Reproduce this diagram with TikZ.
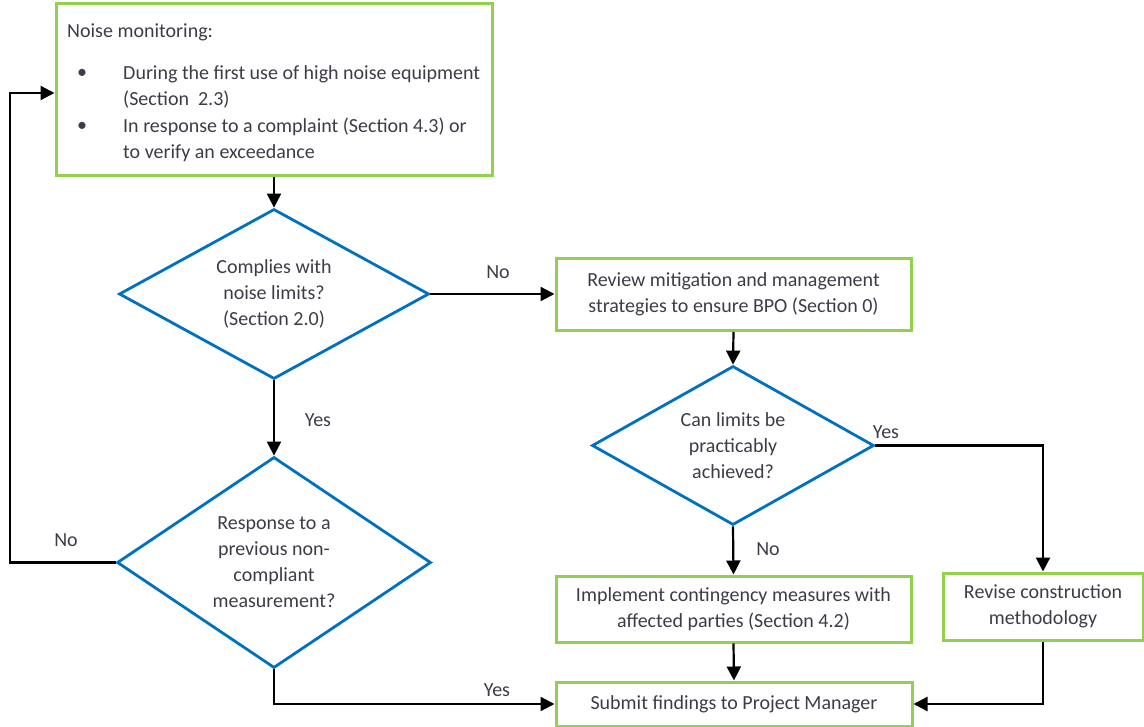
\documentclass[tikz,border=0pt]{standalone}
\usepackage{fontspec}
\setmainfont{Carlito}
\usetikzlibrary{shapes.geometric,arrows.meta}
\definecolor{gbord}{HTML}{92D050}
\definecolor{bdia}{HTML}{0070C0}
\definecolor{txtc}{HTML}{3C3C48}
\begin{document}
\begin{tikzpicture}[x=1pt,y=-1pt,
  every node/.style={text=txtc, font=\fontsize{20}{26}\selectfont},
  box/.style={draw=gbord, line width=3pt, rectangle, align=center, inner sep=0},
  dia/.style={draw=bdia, line width=2.8pt, diamond, align=center, inner sep=0},
  conn/.style={line width=2.2pt, -{Triangle[length=14pt,width=14pt]}},
  lab/.style={inner sep=0}]
\useasboundingbox (0,0) rectangle (1144,727);
% nodes
\node[box, minimum width=436, minimum height=172] (mon) at (274,90) {};
\node[lab, anchor=base west] (t0) at (67,38) {Noise monitoring:};
\node[lab] (b1) at (82,74) {•};
\node[lab, anchor=base west] (t1) at (123,80) {During the first use of high noise equipment};
\node[lab, anchor=base west] (t2) at (123,106) {(Section~~2.3)};
\node[lab] (b2) at (82,127) {•};
\node[lab, anchor=base west] (t3) at (123,133) {In response to a complaint (Section 4.3) or};
\node[lab, anchor=base west] (t4) at (123,159) {to verify an exceedance};

\node[dia, aspect=1.82, minimum width=310, minimum height=170] (d1) at (274,294) {Complies with\\noise limits?\\(Section 2.0)};
\node[box, minimum width=355, minimum height=72] (review) at (733.5,294.5) {Review mitigation and management\\strategies to ensure BPO (Section 0)};
\node[dia, aspect=1.77, minimum width=282, minimum height=159] (d3) at (733,445.5) {Can limits be\\practicably\\achieved?};
\node[dia, aspect=1.49, minimum width=314, minimum height=211] (d2) at (274,562.5) {Response to a\\previous non-\\compliant\\measurement?};
\node[box, minimum width=355, minimum height=66] (impl) at (733.5,609) {Implement contingency measures with\\affected parties (Section 4.2)};
\node[box, minimum width=200, minimum height=67] (revise) at (1043,606.5) {Revise construction\\methodology};
\node[box, minimum width=356, minimum height=44] (submit) at (734,704) {Submit findings to Project Manager};

\coordinate (c1) at (10,93);
% connectors
\draw[conn] (mon.south) -- (d1.north);
\draw[conn] (d1.east) -- (d1.east -| review.west);
\draw[conn] (d1.south) -- (d2.north);
\draw[conn] (review.south) -- (d3.north);
\draw[conn] (d3.east) -| (revise.north);
\draw[conn] (d3.south) -- (impl.north);
\draw[conn] (impl.south) -- (submit.north);
\draw[conn] (revise.south) |- (submit.east);
\draw[conn] (d2.south) |- (submit.west);
\draw[conn] (d2.west) -| (c1) -- (c1 -| mon.west);
% labels
\node[lab] (l1) at (498,272) {No};
\node[lab] (l2) at (318,420) {Yes};
\node[lab] (l3) at (886,432) {Yes};
\node[lab] (l4) at (768,549) {No};
\node[lab] (l5) at (497,690) {Yes};
\node[lab] (l6) at (66,540) {No};
\end{tikzpicture}
\end{document}
